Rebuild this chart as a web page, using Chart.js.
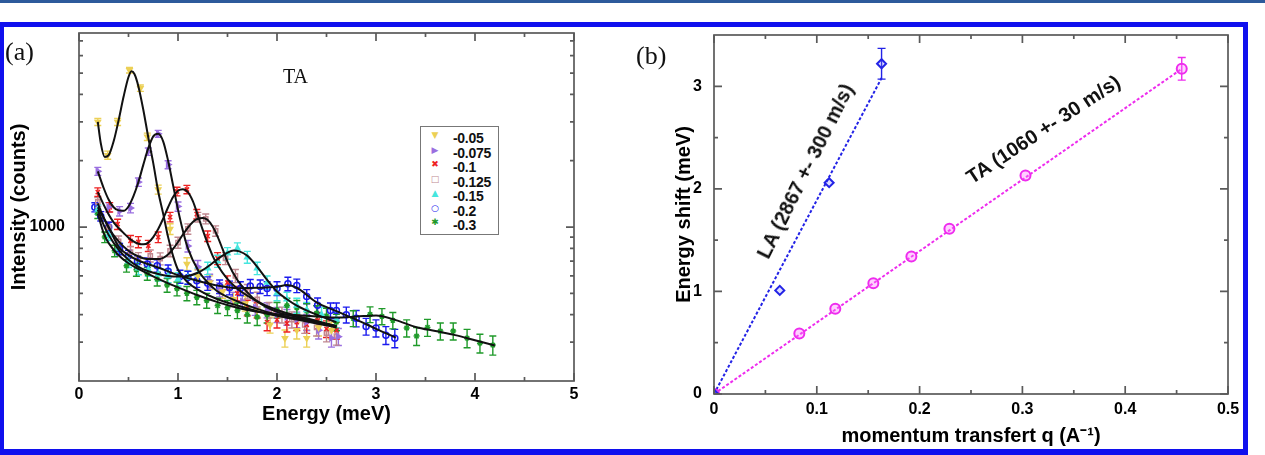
<!DOCTYPE html>
<html>
<head>
<meta charset="utf-8">
<script src="https://cdn.jsdelivr.net/npm/chart.js@4.4.1/dist/chart.umd.min.js"></script>
<style>
  html,body{margin:0;padding:0;background:#fff;}
  body{width:1265px;height:455px;position:relative;overflow:hidden;font-family:'Liberation Sans',Arial,sans-serif;}
  .abs{position:absolute;}
  .serif{font-family:'Liberation Serif','Times New Roman',serif;color:#111;}
  .rot{position:absolute;white-space:nowrap;font:bold 20px 'Liberation Sans',Arial,sans-serif;line-height:1;color:#111;transform-origin:50% 50%;}
  #legendA{position:absolute;left:420px;top:126px;width:79px;height:109px;box-sizing:border-box;border:1px solid #777;background:#fff;}
  #legendA .row{position:absolute;left:0;height:15px;line-height:15px;width:78px;font:bold 14px 'Liberation Sans',Arial,sans-serif;color:#111;}
  #legendA .mk{position:absolute;left:8px;width:12px;text-align:center;font-size:9px;font-family:'DejaVu Sans',sans-serif;}
  #legendA .tx{position:absolute;left:32px;letter-spacing:-0.3px;}
</style>
</head>
<body>
<div class="abs" style="left:0;top:0;width:1265px;height:3px;background:#2d5a9b;"></div>
<div class="abs" style="left:0;top:0;width:620px;height:455px;"><canvas id="chartA" width="620" height="455"></canvas></div>
<div class="abs" style="left:620px;top:0;width:645px;height:455px;"><canvas id="chartB" width="645" height="455"></canvas></div>

<div class="abs serif" style="left:5px;top:39px;font-size:26px;line-height:26px;">(a)</div>
<div class="abs serif" style="left:283px;top:66px;font-size:20px;line-height:20px;">TA</div>
<div class="abs serif" style="left:636px;top:43px;font-size:26px;line-height:26px;">(b)</div>

<div id="legendA"></div>

<div class="rot" id="laLabel" style="left:805px;top:171px;transform:translate(-50%,-50%) rotate(-63.5deg);">LA (2867 +- 300 m/s)</div>
<div class="rot" id="taLabel" style="left:1043px;top:129px;transform:translate(-50%,-50%) rotate(-33.5deg);">TA (1060 +- 30 m/s)</div>

<div class="abs" style="left:-1px;top:22px;width:1249px;height:433px;box-sizing:border-box;border:5px solid #1010ee;border-bottom-width:6px;pointer-events:none;"></div>

<script>
// ---------------- Panel (a) data: [energy meV, intensity counts, error] ----------------
const seriesLabels = ['-0.05', '-0.075', '-0.1', '-0.125', '-0.15', '-0.2', '-0.3'];
const seriesColors = ['#ecd055', '#9a6fe0', '#ee2222', '#c08890', '#45e6de', '#1a1aee', '#1f9a2a'];

const pts005 = [[0.19,3000,110],[0.29,2120,90],[0.39,3000,110],[0.51,5150,150],[0.62,4270,140],[0.69,2570,100],[0.80,1480,70],[0.92,980,55],[1.09,680,45],[1.20,600,40],[1.32,560,40],[1.45,510,35],[1.56,470,35],[1.68,450,35],[1.80,420,30],[1.93,360,30],[2.08,313,28],[2.20,340,30],[2.30,313,28],[2.42,350,30],[2.55,340,30]];
const pts0075 = [[0.19,1790,75],[0.30,1230,60],[0.41,1180,58],[0.52,1220,60],[0.60,1600,70],[0.70,2200,85],[0.80,2650,95],[0.90,1920,80],[1.00,1240,60],[1.10,820,50],[1.20,660,45],[1.32,570,40],[1.42,520,38],[1.55,470,35],[1.65,460,35],[1.78,430,33],[1.90,420,33],[2.00,400,32],[2.10,390,32],[2.20,380,31],[2.30,370,31],[2.42,340,30],[2.55,313,28],[2.62,318,28]];
const pts01 = [[0.19,1440,65],[0.31,1230,60],[0.39,1030,55],[0.52,865,50],[0.60,855,50],[0.70,822,48],[0.80,900,50],[0.92,1110,55],[0.99,1450,65],[1.09,1480,65],[1.19,1145,57],[1.30,910,50],[1.40,720,45],[1.50,560,40],[1.60,500,38],[1.70,430,35],[1.80,420,34],[1.90,370,32],[2.00,380,32],[2.10,365,31],[2.20,370,31],[2.30,360,31],[2.41,377,32],[2.50,345,30],[2.60,340,30]];
const pts0125 = [[0.19,1300,60],[0.30,1000,55],[0.40,860,50],[0.52,770,47],[0.60,720,45],[0.72,740,46],[0.82,718,45],[0.92,780,47],[1.00,850,49],[1.10,980,53],[1.20,1110,56],[1.28,1090,56],[1.38,960,52],[1.48,720,45],[1.58,600,41],[1.70,510,38],[1.80,470,36],[1.92,420,34],[2.05,400,33],[2.15,380,32],[2.28,360,31],[2.40,350,30],[2.50,330,29],[2.60,320,29]];
const pts015 = [[0.19,1200,58],[0.30,920,52],[0.40,800,48],[0.50,700,45],[0.60,650,43],[0.70,640,42],[0.80,610,41],[0.90,600,41],[1.00,580,40],[1.10,590,40],[1.20,610,41],[1.30,650,42],[1.40,700,44],[1.50,760,46],[1.60,800,47],[1.70,730,45],[1.80,650,42],[1.90,560,39],[2.00,500,37],[2.10,470,36],[2.20,440,35],[2.30,420,34],[2.45,400,33],[2.60,380,32]];
const pts02 = [[0.16,1230,58],[0.22,1120,55],[0.30,1000,52],[0.41,796,47],[0.50,740,45],[0.59,696,44],[0.69,680,43],[0.79,667,43],[0.90,630,42],[1.02,596,40],[1.10,590,40],[1.19,571,39],[1.30,555,39],[1.42,537,38],[1.52,530,38],[1.63,526,38],[1.73,540,38],[1.83,537,38],[1.90,526,38],[2.00,526,38],[2.11,553,39],[2.20,542,38],[2.30,484,36],[2.41,441,35],[2.54,418,34],[2.60,418,34],[2.70,400,33],[2.80,385,33],[2.90,354,31],[3.00,348,31],[3.10,323,30],[3.19,313,30]];
const pts03 = [[0.19,1150,56],[0.26,900,50],[0.36,780,47],[0.48,667,43],[0.58,640,42],[0.69,614,41],[0.79,580,40],[0.89,545,39],[0.99,525,38],[1.09,500,37],[1.19,480,36],[1.29,464,36],[1.40,440,35],[1.50,430,34],[1.60,418,34],[1.70,400,33],[1.80,390,33],[1.90,400,33],[2.00,420,34],[2.10,440,35],[2.20,430,34],[2.30,415,34],[2.40,406,33],[2.50,395,33],[2.60,370,32],[2.77,385,32],[2.94,401,33],[3.06,393,33],[3.17,377,32],[3.31,348,31],[3.41,320,30],[3.52,350,31],[3.65,337,30],[3.78,337,30],[3.92,313,30],[4.05,297,29],[4.18,291,29]];

// fitted curves: [energy, intensity]
const fit005 = [[0.19,3000],[0.22,2400],[0.26,2080],[0.30,2120],[0.35,2450],[0.40,3050],[0.45,3900],[0.50,4800],[0.53,5100],[0.56,4950],[0.60,4350],[0.65,3400],[0.70,2550],[0.75,1950],[0.80,1450],[0.85,1150],[0.90,900],[0.95,740],[1.00,640],[1.10,560],[1.20,520],[1.40,470],[1.60,440],[1.80,415],[2.00,395],[2.20,380],[2.40,365],[2.60,350]];
const fit0075 = [[0.19,1790],[0.25,1500],[0.30,1330],[0.35,1230],[0.40,1190],[0.45,1185],[0.50,1240],[0.55,1380],[0.60,1600],[0.65,1920],[0.70,2280],[0.75,2580],[0.80,2650],[0.85,2450],[0.90,2000],[0.95,1550],[1.00,1200],[1.05,960],[1.10,800],[1.20,640],[1.30,560],[1.40,510],[1.60,460],[1.80,425],[2.00,400],[2.20,385],[2.40,370],[2.60,355]];
const fit01 = [[0.19,1440],[0.25,1260],[0.30,1140],[0.35,1050],[0.40,990],[0.45,940],[0.50,895],[0.55,860],[0.60,840],[0.65,835],[0.70,850],[0.75,900],[0.80,980],[0.85,1090],[0.90,1230],[0.95,1370],[1.00,1460],[1.05,1485],[1.10,1440],[1.15,1310],[1.20,1130],[1.25,970],[1.30,840],[1.35,740],[1.40,670],[1.50,580],[1.60,525],[1.80,460],[2.00,420],[2.20,395],[2.40,375],[2.60,355]];
const fit0125 = [[0.19,1280],[0.25,1100],[0.30,990],[0.40,860],[0.50,780],[0.60,735],[0.70,715],[0.80,715],[0.85,725],[0.90,750],[0.95,795],[1.00,855],[1.05,925],[1.10,995],[1.15,1055],[1.20,1090],[1.25,1098],[1.30,1075],[1.35,1005],[1.40,905],[1.45,795],[1.50,695],[1.60,575],[1.70,505],[1.80,460],[2.00,412],[2.20,390],[2.40,370],[2.60,355]];
const fit015 = [[0.19,1200],[0.25,1020],[0.30,920],[0.40,790],[0.50,710],[0.60,660],[0.70,630],[0.80,612],[0.90,600],[1.00,596],[1.10,600],[1.20,620],[1.30,660],[1.40,715],[1.50,765],[1.56,782],[1.62,775],[1.70,740],[1.80,660],[1.90,575],[2.00,510],[2.10,470],[2.20,440],[2.40,400],[2.60,370]];
const fit02 = [[0.19,1230],[0.30,1000],[0.40,815],[0.50,745],[0.60,705],[0.80,655],[1.00,605],[1.20,570],[1.40,542],[1.60,528],[1.80,530],[2.00,535],[2.10,545],[2.20,530],[2.40,455],[2.60,415],[2.80,380],[3.00,345],[3.20,315]];
const fit03 = [[0.19,1150],[0.25,935],[0.30,845],[0.40,745],[0.50,685],[0.60,645],[0.80,582],[1.00,532],[1.20,490],[1.40,456],[1.60,430],[1.80,412],[2.00,402],[2.20,398],[2.40,393],[2.60,388],[2.80,392],[3.00,397],[3.20,378],[3.40,352],[3.60,337],[3.80,323],[4.00,306],[4.20,290]];

// axis ticks panel (a)
const xTicksA = [0, 1, 2, 3, 4, 5];
const xMinorA = [0.5, 1.5, 2.5, 3.5, 4.5];
const yTicksA = [1000];
const yMinorA = [300, 400, 500, 600, 700, 800, 900, 2000, 3000, 4000, 5000, 6000, 7000];

// ---------------- Panel (b) data ----------------
const laQ = [0, 0.064, 0.112, 0.163];
const laE = [0, 1.01, 2.06, 3.22];
const laErr = [0, 0, 0, 0.15];
const laFitQ = [0, 0.163];
const laFitE = [0, 3.08];

const taQ = [0, 0.083, 0.118, 0.155, 0.192, 0.229, 0.303, 0.455];
const taE = [0, 0.59, 0.83, 1.08, 1.34, 1.61, 2.13, 3.17];
const taErr = [0, 0, 0, 0, 0, 0, 0, 0.11];
const taFitQ = [0, 0.455];
const taFitE = [0, 3.17];

const xTicksB = [0, 0.1, 0.2, 0.3, 0.4, 0.5];
const xMinorB = [0.05, 0.15, 0.25, 0.35, 0.45];
const yTicksB = [0, 1, 2, 3];
const yMinorB = [0.5, 1.5, 2.5];

// ---------------- common helpers ----------------
Chart.defaults.font.family = "'Liberation Sans', Arial, sans-serif";
Chart.defaults.color = '#000';

const errorBarPlugin = {
  id: 'errbars',
  beforeDatasetsDraw(chart) {
    const {ctx, chartArea: a, scales: {x, y}} = chart;
    ctx.save();
    ctx.beginPath(); ctx.rect(a.left, a.top, a.right - a.left, a.bottom - a.top); ctx.clip();
    chart.data.datasets.forEach(ds => {
      if (!ds.errorBars) return;
      ctx.strokeStyle = ds.borderColor;
      ctx.lineWidth = ds.errWidth || 1.4;
      const c = ds.capHalf || 3.5;
      ds.data.forEach((p, j) => {
        const e = ds.errorBars[j];
        if (!e) return;
        const px = x.getPixelForValue(p.x);
        const y1 = y.getPixelForValue(p.y - e), y2 = y.getPixelForValue(p.y + e);
        ctx.beginPath();
        ctx.moveTo(px, y1); ctx.lineTo(px, y2);
        ctx.moveTo(px - c, y1); ctx.lineTo(px + c, y1);
        ctx.moveTo(px - c, y2); ctx.lineTo(px + c, y2);
        ctx.stroke();
      });
    });
    ctx.restore();
  }
};

function framePlugin(t) {
  return {
    id: 'frameTicks',
    afterDraw(chart) {
      const {ctx, chartArea: a, scales: {x, y}} = chart;
      ctx.save();
      ctx.strokeStyle = '#5a5a5a';
      ctx.lineWidth = 1.7;
      ctx.strokeRect(a.left, a.top, a.right - a.left, a.bottom - a.top);
      ctx.beginPath();
      const xt = (v, len) => { const px = x.getPixelForValue(v); ctx.moveTo(px, a.bottom); ctx.lineTo(px, a.bottom - len); ctx.moveTo(px, a.top); ctx.lineTo(px, a.top + len); };
      const yt = (v, len) => { const py = y.getPixelForValue(v); ctx.moveTo(a.left, py); ctx.lineTo(a.left + len, py); ctx.moveTo(a.right, py); ctx.lineTo(a.right - len, py); };
      t.xMajor.forEach(v => xt(v, 8)); t.xMinor.forEach(v => xt(v, 4));
      t.yMajor.forEach(v => yt(v, 8)); t.yMinor.forEach(v => yt(v, 4));
      ctx.stroke();
      ctx.restore();
    }
  };
}

const tickFont = {size: 16, weight: 'bold'};
const titleFont = {size: 20, weight: 'bold'};

// ---------------- chart (a) ----------------
const ptsA = [pts005, pts0075, pts01, pts0125, pts015, pts02, pts03];
const fitsA = [fit005, fit0075, fit01, fit0125, fit015, fit02, fit03];
const stylesA = [['triangle', 180], ['triangle', 90], ['crossRot', 0], ['rect', 0], ['triangle', 0], ['circle', 0], ['star', 0]];
const fillsA = [true, true, true, false, true, false, true];

const datasetsA = [];
fitsA.forEach((f, i) => {
  datasetsA.push({
    label: 'fit ' + seriesLabels[i],
    data: f.map(p => ({x: p[0], y: p[1]})),
    showLine: true, borderColor: '#111', borderWidth: 2, pointRadius: 0,
    cubicInterpolationMode: 'monotone', order: 0
  });
});
ptsA.forEach((s, i) => {
  datasetsA.push({
    label: seriesLabels[i],
    data: s.map(p => ({x: p[0], y: p[1]})),
    errorBars: s.map(p => p[2]),
    showLine: false,
    pointStyle: stylesA[i][0], rotation: stylesA[i][1],
    pointRadius: 3, borderWidth: 1.5,
    borderColor: seriesColors[i], backgroundColor: fillsA[i] ? seriesColors[i] : 'rgba(255,255,255,0)',
    order: 1
  });
});

new Chart(document.getElementById('chartA'), {
  type: 'scatter',
  data: {datasets: datasetsA},
  options: {
    responsive: false, animation: false,
    layout: {padding: {left: 0, top: 33, right: 46, bottom: 0}},
    plugins: {legend: {display: false}, tooltip: {enabled: false}},
    scales: {
      x: {
        type: 'linear', min: 0, max: 5,
        grid: {display: false}, border: {display: false},
        afterBuildTicks: s => { s.ticks = xTicksA.map(v => ({value: v})); },
        afterFit: s => { s.height = 74; },
        ticks: {font: tickFont, padding: -4, maxRotation: 0, callback: v => String(v)},
        title: {display: true, text: 'Energy (meV)', font: titleFont, padding: {top: 0, bottom: 29}}
      },
      y: {
        type: 'logarithmic', min: 200, max: 7600,
        grid: {display: false}, border: {display: false},
        afterBuildTicks: s => { s.ticks = yTicksA.map(v => ({value: v})); },
        afterFit: s => { s.width = 79; },
        ticks: {font: tickFont, padding: 6, callback: v => String(v)},
        title: {display: true, text: 'Intensity (counts)', font: titleFont, padding: {top: 7, bottom: 0}}
      }
    }
  },
  plugins: [errorBarPlugin, framePlugin({xMajor: xTicksA, xMinor: xMinorA, yMajor: yTicksA, yMinor: yMinorA})]
});

// legend (a)
const legendGlyphs = ['\u25BC', '\u25B6', '\u2716', '\u25A1', '\u25B2', '\u25CB', '\u2731'];
const legendEl = document.getElementById('legendA');
seriesLabels.forEach((lab, i) => {
  const row = document.createElement('div');
  row.className = 'row';
  row.style.top = (3 + i * 14.5) + 'px';
  row.innerHTML = '<span class="mk" style="color:' + seriesColors[i] + '">' + legendGlyphs[i] + '</span><span class="tx">' + lab + '</span>';
  legendEl.appendChild(row);
});

// ---------------- chart (b) ----------------
const LAcolor = '#2323e6';
const TAcolor = '#ee2cee';
new Chart(document.getElementById('chartB'), {
  type: 'scatter',
  data: {
    datasets: [
      {label: 'LA', data: laQ.map((q, i) => ({x: q, y: laE[i]})), errorBars: laErr, showLine: false,
       pointStyle: 'rectRot', pointRadius: 4.5, borderWidth: 2, borderColor: LAcolor, backgroundColor: 'rgba(120,120,255,0.25)', order: 0, capHalf: 4},
      {label: 'TA', data: taQ.map((q, i) => ({x: q, y: taE[i]})), errorBars: taErr, showLine: false,
       pointStyle: 'circle', pointRadius: 5, borderWidth: 2, borderColor: TAcolor, backgroundColor: 'rgba(255,120,255,0.35)', order: 0, capHalf: 4},
      {label: 'LA fit', data: laFitQ.map((q, i) => ({x: q, y: laFitE[i]})), showLine: true, pointRadius: 0,
       borderColor: LAcolor, borderWidth: 2, borderDash: [3, 2], order: 1},
      {label: 'TA fit', data: taFitQ.map((q, i) => ({x: q, y: taFitE[i]})), showLine: true, pointRadius: 0,
       borderColor: TAcolor, borderWidth: 2, borderDash: [3, 2], order: 1}
    ]
  },
  options: {
    responsive: false, animation: false,
    layout: {padding: {left: 0, top: 35, right: 37, bottom: 0}},
    plugins: {legend: {display: false}, tooltip: {enabled: false}},
    scales: {
      x: {
        type: 'linear', min: 0, max: 0.5,
        grid: {display: false}, border: {display: false},
        afterBuildTicks: s => { s.ticks = xTicksB.map(v => ({value: v})); },
        afterFit: s => { s.height = 61; },
        ticks: {font: tickFont, padding: -2, maxRotation: 0, callback: v => String(v)},
        title: {display: true, text: 'momentum transfert q (A\u207B\u00B9)', font: titleFont, padding: {top: 0, bottom: 7}}
      },
      y: {
        type: 'linear', min: 0, max: 3.5,
        grid: {display: false}, border: {display: false},
        afterBuildTicks: s => { s.ticks = yTicksB.map(v => ({value: v})); },
        afterFit: s => { s.width = 94; },
        ticks: {font: tickFont, padding: 4, callback: v => String(v)},
        title: {display: true, text: 'Energy shift (meV)', font: titleFont, padding: {top: 52, bottom: 0}}
      }
    }
  },
  plugins: [errorBarPlugin, framePlugin({xMajor: xTicksB, xMinor: xMinorB, yMajor: yTicksB, yMinor: yMinorB})]
});
</script>
</body>
</html>
